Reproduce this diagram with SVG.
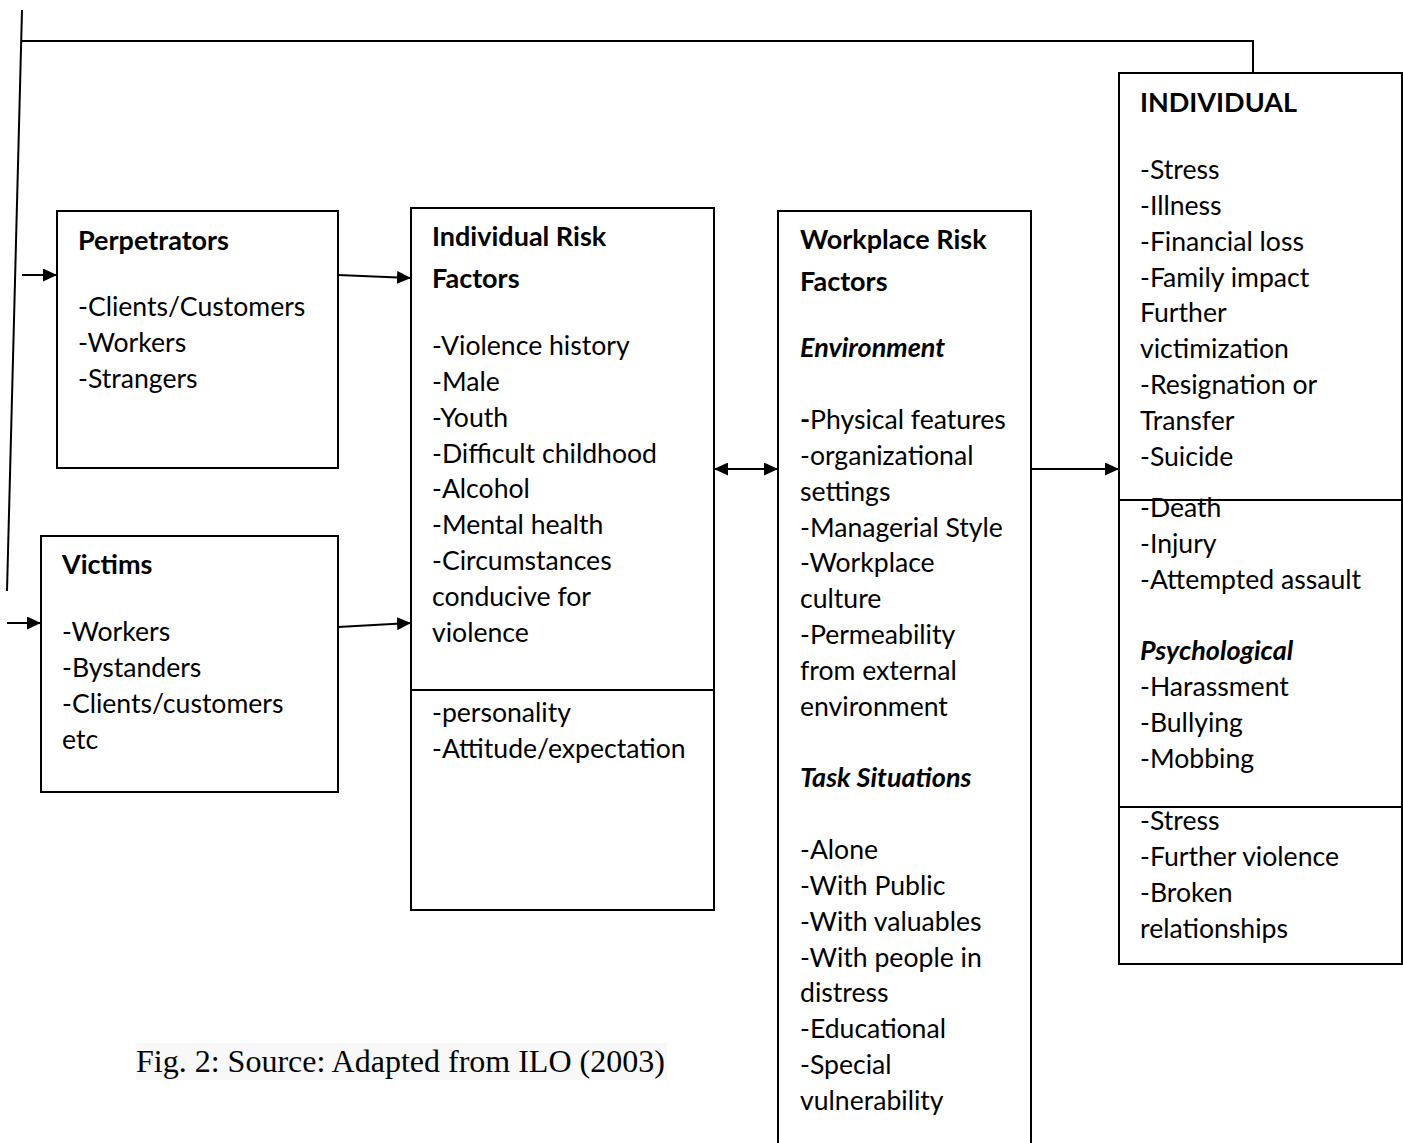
<svg xmlns="http://www.w3.org/2000/svg" width="1403" height="1143" viewBox="0 0 1403 1143">
<style>
.box{fill:#fff;stroke:#000;stroke-width:2}
.ln{fill:none;stroke:#000;stroke-width:2}
text{font-family:Lato,"Open Sans",sans-serif;font-size:26.6px;fill:#000}
.b{font-weight:bold;font-size:27px}
.bi{font-weight:bold;font-style:italic;font-size:27px}
.cap{font-family:"Liberation Serif","Times New Roman",serif;font-size:32px}
</style>
<defs>
<marker id="ah" markerWidth="14" markerHeight="13" refX="13" refY="6.5" orient="auto" markerUnits="userSpaceOnUse" viewBox="0 0 14 13">
<path d="M0,0 L14,6.5 L0,13 z" fill="#000"/>
</marker>
<marker id="ahs" markerWidth="14" markerHeight="13" refX="1" refY="6.5" orient="auto" markerUnits="userSpaceOnUse" viewBox="0 0 14 13">
<path d="M14,0 L0,6.5 L14,13 z" fill="#000"/>
</marker>
</defs>
<rect width="1403" height="1143" fill="#fff"/>

<g id="connectors">
<line class="ln" x1="22" y1="10" x2="7" y2="591"/>
<polyline class="ln" points="22,41 1253,41 1253,73"/>
<line class="ln" x1="22" y1="275" x2="56" y2="275" marker-end="url(#ah)"/>
<line class="ln" x1="7" y1="623" x2="40" y2="623" marker-end="url(#ah)"/>
<line class="ln" x1="338" y1="275" x2="410" y2="278" marker-end="url(#ah)"/>
<line class="ln" x1="338" y1="627" x2="410" y2="623" marker-end="url(#ah)"/>
<line class="ln" x1="715" y1="469" x2="777" y2="469" marker-start="url(#ahs)" marker-end="url(#ah)"/>
<line class="ln" x1="1031" y1="469" x2="1118" y2="469" marker-end="url(#ah)"/>
</g>

<g id="perpetrators">
<rect class="box" x="57" y="211" width="281" height="257"/>
<text class="b" x="78" y="250">Perpetrators</text>
<text x="78" y="316">-Clients/Customers</text>
<text x="78" y="352">-Workers</text>
<text x="78" y="388">-Strangers</text>
</g>

<g id="victims">
<rect class="box" x="41" y="536" width="297" height="256"/>
<text class="b" x="62" y="574">Victims</text>
<text x="62" y="641">-Workers</text>
<text x="62" y="677">-Bystanders</text>
<text x="62" y="713">-Clients/customers</text>
<text x="62" y="749">etc</text>
</g>

<g id="individual-risk-factors">
<rect class="box" x="411" y="208" width="303" height="702"/>
<line class="ln" x1="411" y1="690" x2="714" y2="690"/>
<text class="b" x="432" y="246">Individual Risk</text>
<text class="b" x="432" y="288">Factors</text>
<text x="432" y="355">-Violence history</text>
<text x="432" y="391">-Male</text>
<text x="432" y="427">-Youth</text>
<text x="432" y="463">-Difficult childhood</text>
<text x="432" y="498">-Alcohol</text>
<text x="432" y="534">-Mental health</text>
<text x="432" y="570">-Circumstances</text>
<text x="432" y="606">conducive for</text>
<text x="432" y="642">violence</text>
<text x="432" y="722">-personality</text>
<text x="432" y="758">-Attitude/expectation</text>
</g>

<g id="workplace-risk-factors">
<rect class="box" x="778" y="211" width="253" height="940"/>
<text class="b" x="800" y="249">Workplace Risk</text>
<text class="b" x="800" y="291">Factors</text>
<text class="bi" x="800" y="357">Environment</text>
<text x="800" y="429"><tspan class="b">-</tspan>Physical features</text>
<text x="800" y="465">-organizational</text>
<text x="800" y="501">settings</text>
<text x="800" y="537">-Managerial Style</text>
<text x="800" y="572">-Workplace</text>
<text x="800" y="608">culture</text>
<text x="800" y="644">-Permeability</text>
<text x="800" y="680">from external</text>
<text x="800" y="716">environment</text>
<text class="bi" x="800" y="787">Task Situations</text>
<text x="800" y="859">-Alone</text>
<text x="800" y="895">-With Public</text>
<text x="800" y="931">-With valuables</text>
<text x="800" y="967">-With people in</text>
<text x="800" y="1002">distress</text>
<text x="800" y="1038">-Educational</text>
<text x="800" y="1074">-Special</text>
<text x="800" y="1110">vulnerability</text>
</g>

<g id="individual">
<rect class="box" x="1119" y="73" width="283" height="891"/>
<line class="ln" x1="1119" y1="500" x2="1402" y2="500"/>
<line class="ln" x1="1119" y1="807" x2="1402" y2="807"/>
<text class="b" x="1140" y="112">INDIVIDUAL</text>
<text x="1140" y="179">-Stress</text>
<text x="1140" y="215">-Illness</text>
<text x="1140" y="251">-Financial loss</text>
<text x="1140" y="287">-Family impact</text>
<text x="1140" y="322">Further</text>
<text x="1140" y="358">victimization</text>
<text x="1140" y="394">-Resignation or</text>
<text x="1140" y="430">Transfer</text>
<text x="1140" y="466">-Suicide</text>
<text x="1140" y="517">-Death</text>
<text x="1140" y="553">-Injury</text>
<text x="1140" y="589">-Attempted assault</text>
<text class="bi" x="1140" y="660">Psychological</text>
<text x="1140" y="696">-Harassment</text>
<text x="1140" y="732">-Bullying</text>
<text x="1140" y="768">-Mobbing</text>
<text x="1140" y="830">-Stress</text>
<text x="1140" y="866">-Further violence</text>
<text x="1140" y="902">-Broken</text>
<text x="1140" y="938">relationships</text>
</g>

<g id="caption">
<rect x="136" y="1043" width="531" height="37" fill="#f8f8f8"/>
<text class="cap" x="136" y="1072">Fig. 2: Source: Adapted from ILO (2003)</text>
</g>
</svg>
